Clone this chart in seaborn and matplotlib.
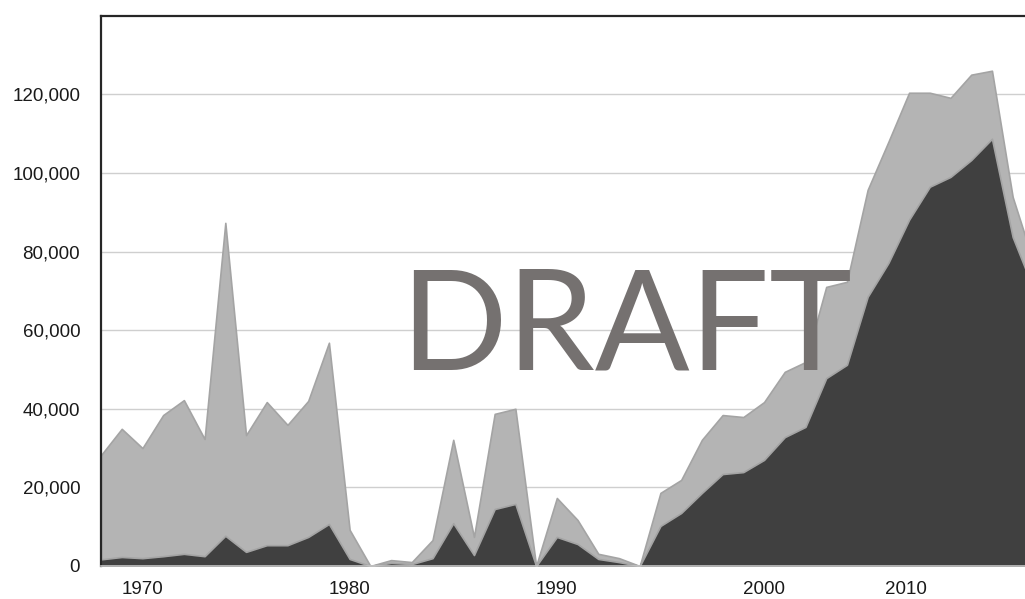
import matplotlib
matplotlib.use("Agg")
import matplotlib.pyplot as plt
import seaborn as sns
import numpy as np

# ---- data (values in units) ----
years = list(range(1968, 2014))
dark_series = [1.7, 2.3, 2.0, 2.5, 3.1, 2.5, 7.7, 3.6, 5.3, 5.3, 7.4, 10.7, 1.8, 0.0,
               0.8, 0.5, 2.0, 10.9, 2.8, 14.5, 15.8, 0.0, 7.4, 5.6, 1.8, 1.0, 0.0,
               10.2, 13.5, 18.6, 23.4, 23.9, 27.0, 32.8, 35.4, 47.8, 51.2, 68.5, 77.1,
               88.1, 96.5, 99.0, 103.3, 108.7, 83.7, 70.5]
light_series = [26.5, 32.6, 28.0, 35.9, 39.1, 29.8, 79.6, 29.7, 36.4, 30.6, 34.6, 46.1, 7.4, 0.0,
                0.7, 0.5, 4.6, 21.2, 4.6, 24.2, 24.2, 0.0, 9.9, 6.1, 1.3, 1.0, 0.0,
                8.4, 8.4, 13.5, 15.0, 14.0, 14.7, 16.6, 16.5, 23.2, 21.1, 27.2, 30.8,
                32.3, 23.9, 20.1, 21.7, 17.3, 10.2, 6.9]
dark_vals = [v * 1000 for v in dark_series]
light_vals = [v * 1000 for v in light_series]

y_ticks = [0, 20000, 40000, 60000, 80000, 100000, 120000]
x_tick_pos = [1970, 1980, 1990, 2000, 2006.85]
x_tick_labels = ["1970", "1980", "1990", "2000", "2010"]
watermark = "DRAFT"

sns.set_theme(style="white")
plt.rcParams["font.family"] = ["Liberation Sans", "DejaVu Sans"]

fig = plt.figure(figsize=(10.25, 5.99), dpi=100)
ax = fig.add_axes([101 / 1025, 33 / 599, (1025 - 101) / 1025, (566 - 15.7) / 599])

ax.set_xlim(1968, 1968 + (1025 - 101) / 20.72)
ax.set_ylim(0, 140000)

for t in y_ticks[1:]:
    ax.axhline(t, color="#cfcfcf", lw=1.0, zorder=0)

polys = ax.stackplot(years, dark_vals, light_vals,
                     colors=["#404040", "#b4b4b4"], linewidth=1.2, zorder=2)
polys[0].set_edgecolor("#4a4a4a")
polys[1].set_edgecolor("#a4a4a4")

ax.set_yticks(y_ticks)
ax.set_yticklabels([f"{t:,}" for t in y_ticks])
ax.set_xticks(x_tick_pos)
ax.set_xticklabels(x_tick_labels)
ax.tick_params(axis="y", length=0, pad=15, labelsize=13.5, labelcolor="#1a1a1a")
ax.tick_params(axis="x", length=0, pad=11, labelsize=13.5, labelcolor="#1a1a1a")

for side in ["top", "left"]:
    ax.spines[side].set_color("#262626")
    ax.spines[side].set_linewidth(1.6)
ax.spines["right"].set_visible(False)
ax.spines["bottom"].set_color("#c4c4c4")
ax.spines["bottom"].set_linewidth(1.2)
ax.grid(False)

fig.text(626 / 1025, 1 - 330 / 599, watermark, fontsize=101, color="#757170",
         family=["Lato", "DejaVu Sans"], ha="center", va="center", zorder=10)

fig.savefig("out.png", dpi=100)
